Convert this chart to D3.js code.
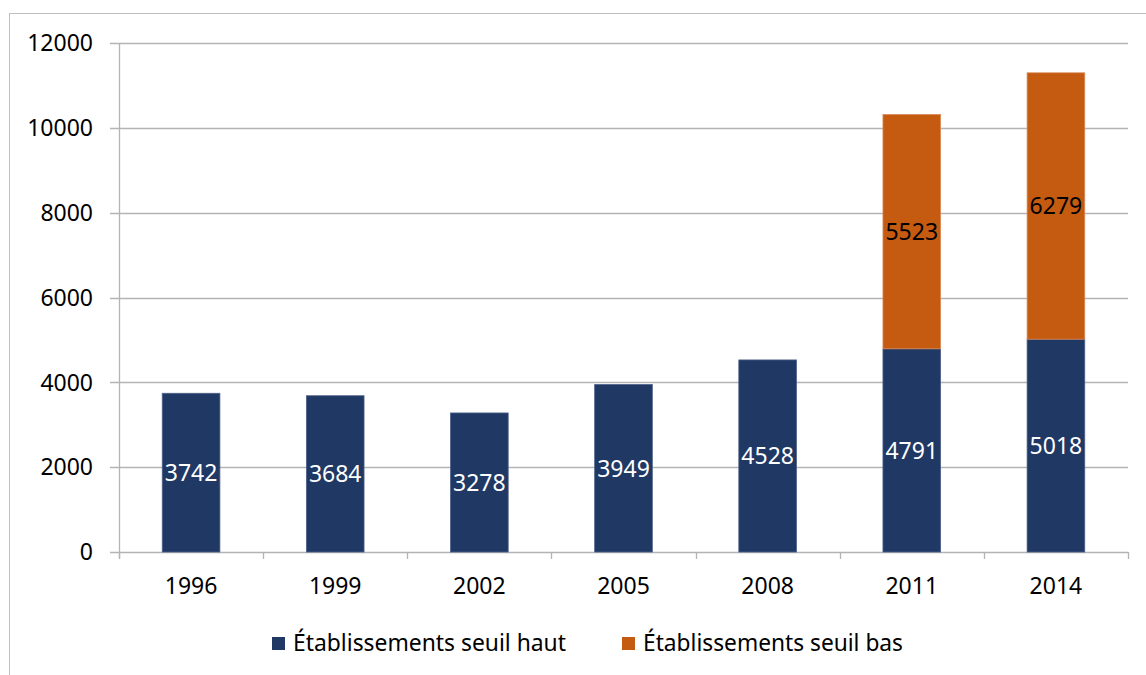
<!DOCTYPE html>
<html><head><meta charset="utf-8">
<script src="https://cdn.jsdelivr.net/npm/d3@7"></script>
<style>body{margin:0;background:#fff}svg{display:block}</style>
</head><body>
<svg id="c" width="1146" height="675"></svg>
<script>
const years = ["1996","1999","2002","2005","2008","2011","2014"];
const seuilHaut = [3742,3684,3278,3949,4528,4791,5018];
const seuilBas = [0,0,0,0,0,5523,6279];
const yTicks = [0,2000,4000,6000,8000,10000,12000];
const seriesNames = ["Établissements seuil haut","Établissements seuil bas"];
const colors = ["#203864","#C55A11"];
const labelColors = ["#ffffff","#000000"];

const svg = d3.select("#c");
const font = "'Noto Sans', 'Open Sans', sans-serif";
const fs = 23;
const L = 119, R = 1128, T = 43, B = 552;

svg.append("rect").attr("x",9.5).attr("y",13.5).attr("width",1150).attr("height",680)
  .attr("fill","#fff").attr("stroke","#bfbfbf").attr("stroke-width",1);

const x = d3.scaleBand().domain(years).range([L,R]).padding(0);
const y = d3.scaleLinear().domain([0,12000]).range([B,T]);
const gridColor = "#b4b4b4";

svg.append("g").selectAll("line").data(yTicks).join("line")
  .attr("x1",L-9).attr("x2",R).attr("y1",d=>Math.round(y(d))+0.5).attr("y2",d=>Math.round(y(d))+0.5)
  .attr("stroke",gridColor).attr("stroke-width",1.3);
svg.append("line").attr("x1",L+0.5).attr("x2",L+0.5).attr("y1",T).attr("y2",B+6)
  .attr("stroke",gridColor).attr("stroke-width",1.3);
const bounds = years.map(d=>x(d)).concat([R]);
svg.append("g").selectAll("line").data(bounds).join("line")
  .attr("x1",d=>Math.round(d)+0.5).attr("x2",d=>Math.round(d)+0.5).attr("y1",B).attr("y2",B+7)
  .attr("stroke",gridColor).attr("stroke-width",1.3);

svg.append("g").selectAll("text").data(yTicks).join("text")
  .attr("x",93).attr("y",d=>y(d)).attr("dy","0.36em").attr("text-anchor","end")
  .attr("font-family",font).attr("font-size",fs).attr("fill","#000").text(d=>d);
svg.append("g").selectAll("text").data(years).join("text")
  .attr("x",d=>x(d)+x.bandwidth()/2).attr("y",594).attr("text-anchor","middle")
  .attr("font-family",font).attr("font-size",fs).attr("fill","#000").text(d=>d);

const bw = x.bandwidth()*0.4;
const stackData = years.map((yr,i)=>({year:yr, haut:seuilHaut[i], bas:seuilBas[i]}));
const stack = d3.stack().keys(["haut","bas"])(stackData);
stack.forEach((layer,si)=>{
  const g = svg.append("g");
  layer.forEach(d=>{
    const v = d[1]-d[0];
    if(v<=0) return;
    const cx = x(d.data.year)+x.bandwidth()/2;
    g.append("rect").attr("x",cx-bw/2).attr("width",bw)
      .attr("y",y(d[1])).attr("height",y(d[0])-y(d[1]))
      .attr("fill",colors[si]).attr("stroke",si===0?"#4d6088":"#d98a57").attr("stroke-width",0.8);
    g.append("text").attr("x",cx).attr("y",(y(d[0])+y(d[1]))/2).attr("dy","0.36em")
      .attr("text-anchor","middle").attr("font-family",font).attr("font-size",fs)
      .attr("fill",labelColors[si]).text(v);
  });
});

const legX = [272,622];
const legW = [273,260];
seriesNames.forEach((n,i)=>{
  svg.append("rect").attr("x",legX[i]).attr("y",637).attr("width",13).attr("height",13).attr("fill",colors[i]);
  svg.append("text").attr("x",legX[i]+21).attr("y",651).attr("font-family",font).attr("font-size",fs)
    .attr("textLength",legW[i]).attr("lengthAdjust","spacingAndGlyphs")
    .attr("fill","#000").text(n);
});
</script>
</body></html>
